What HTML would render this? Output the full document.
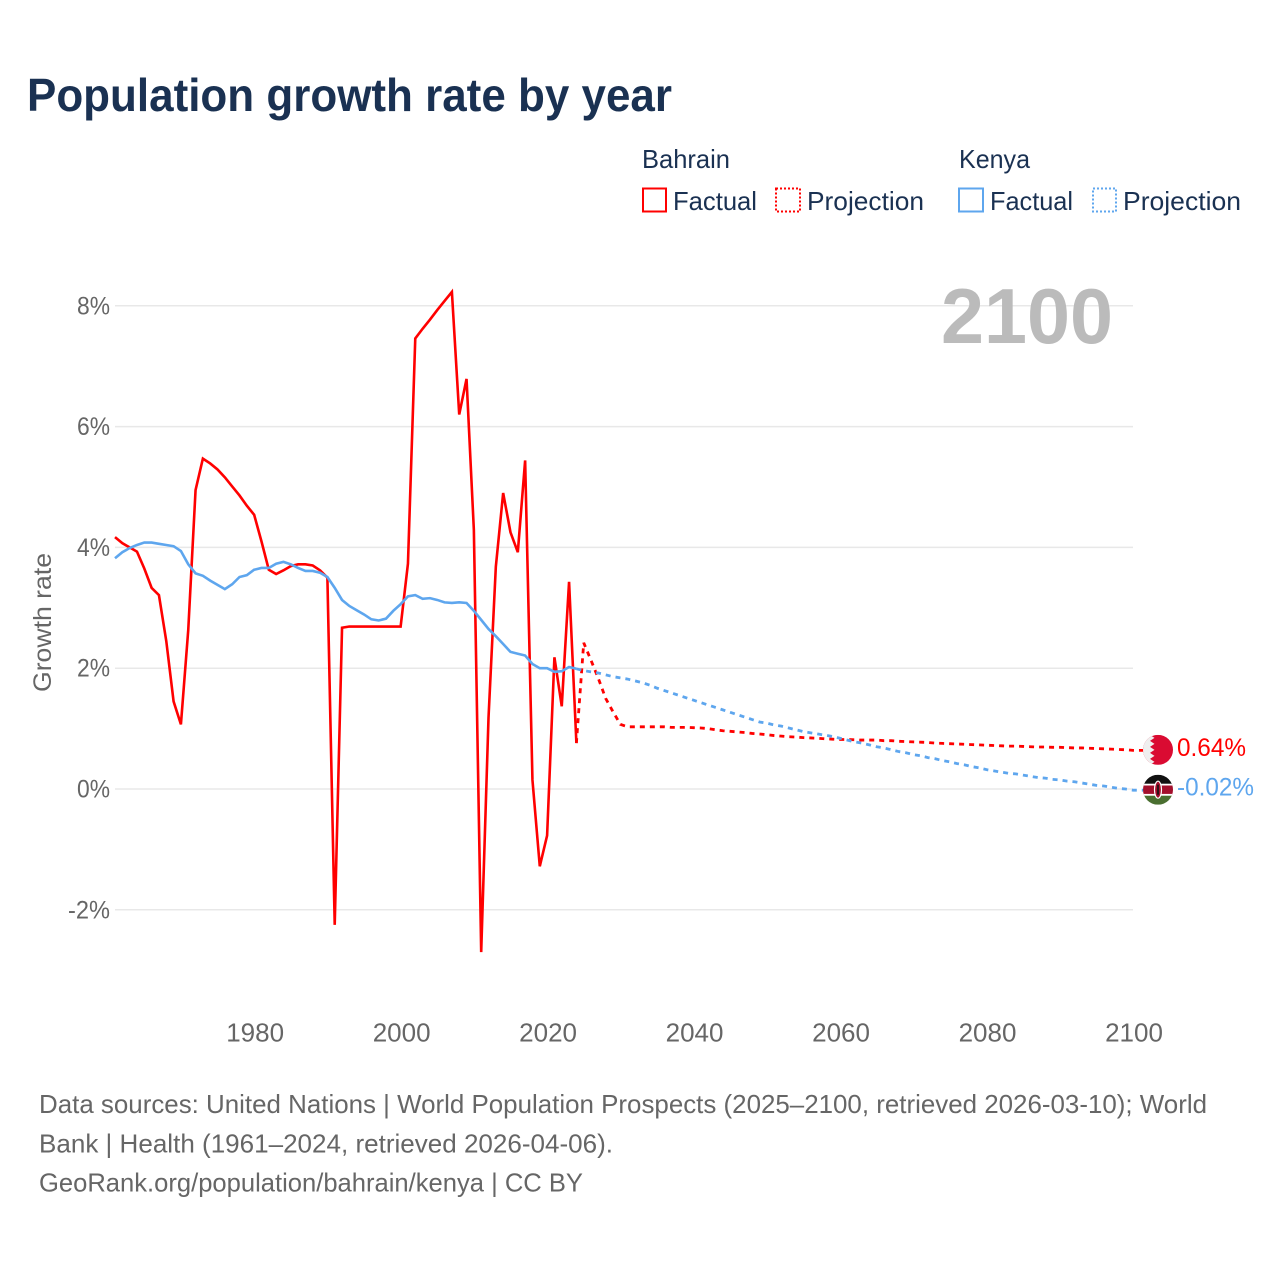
<!DOCTYPE html>
<html lang="en">
<head>
<meta charset="utf-8">
<title>Population growth rate by year</title>
<style>
html,body{margin:0;padding:0;background:#fff;width:1280px;height:1280px;overflow:hidden}
svg{display:block}
text{font-family:"Liberation Sans",sans-serif}
</style>
</head>
<body>
<svg id="chart" width="1280" height="1280" viewBox="0 0 1280 1280" xmlns="http://www.w3.org/2000/svg">
  <defs>
    <clipPath id="clip-flag-bh"><circle id="clip-bh" r="15"/></clipPath>
    <clipPath id="clip-flag-ke"><circle id="clip-ke" r="15"/></clipPath>
  </defs>
  <rect width="1280" height="1280" fill="#fff"/>
  <text x="27" y="111" font-size="46" font-weight="700" fill="#1a3152" textLength="645" lengthAdjust="spacingAndGlyphs">Population growth rate by year</text>

  <g font-size="26" fill="#1a3152">
    <text x="642" y="168" textLength="88" lengthAdjust="spacingAndGlyphs">Bahrain</text>
    <rect x="643" y="188.500" width="23" height="23" fill="none" stroke="#ff0000" stroke-width="2"/>
    <text x="673" y="210" textLength="84" lengthAdjust="spacingAndGlyphs">Factual</text>
    <rect x="776" y="188.500" width="24" height="23" fill="none" stroke="#ff0000" stroke-width="2" stroke-dasharray="2,2"/>
    <text x="807" y="210" textLength="117" lengthAdjust="spacingAndGlyphs">Projection</text>
    <text x="959" y="168" textLength="71" lengthAdjust="spacingAndGlyphs">Kenya</text>
    <rect x="959" y="188.500" width="24" height="23" fill="none" stroke="#5ea6ee" stroke-width="2"/>
    <text x="990" y="210" textLength="83" lengthAdjust="spacingAndGlyphs">Factual</text>
    <rect x="1093" y="188.500" width="23" height="23" fill="none" stroke="#5ea6ee" stroke-width="2" stroke-dasharray="2,2"/>
    <text x="1123" y="210" textLength="118" lengthAdjust="spacingAndGlyphs">Projection</text>
  </g>

  <g id="grid"></g>
  <g id="y-ticks"></g>
  <g id="x-ticks"></g>
  <text transform="translate(51,622.500) rotate(-90)" text-anchor="middle" font-size="25" fill="#666" textLength="139" lengthAdjust="spacingAndGlyphs">Growth rate</text>
  <text x="1113" y="343" text-anchor="end" font-size="78" font-weight="700" fill="#bbbbbb" textLength="172" lengthAdjust="spacingAndGlyphs">2100</text>

  <g id="series"></g>

  <g id="flag-bh" clip-path="url(#clip-flag-bh)">
    <rect x="-15" y="-15" width="30" height="30" fill="#da0b32"/>
    <polygon fill="#efefef" points="-15,-15 -8,-15 -3.500,-12 -8,-9 -3.500,-6 -8,-3 -3.500,0 -8,3 -3.500,6 -8,9 -3.500,12 -8,15 -15,15"/>
  </g>
  <g id="flag-ke" clip-path="url(#clip-flag-ke)">
    <rect x="-15" y="-15" width="30" height="10" fill="#111"/>
    <rect x="-15" y="-5" width="30" height="10" fill="#a30f2c"/>
    <rect x="-15" y="5" width="30" height="10" fill="#4a6f30"/>
    <rect x="-15" y="-6" width="30" height="1.800" fill="#fff"/>
    <rect x="-15" y="4.200" width="30" height="1.800" fill="#fff"/>
    <ellipse cx="0" cy="0" rx="3.500" ry="8.500" fill="#a30f2c" stroke="#fff" stroke-width="1.200"/>
    <rect x="-0.800" y="-5" width="1.600" height="10" fill="#111"/>
  </g>
  <text id="value-bh" x="1177" y="756" font-size="25" fill="#ff0000" textLength="69" lengthAdjust="spacingAndGlyphs">0.64%</text>
  <text id="value-ke" x="1177" y="796" font-size="25" fill="#5ea6ee" textLength="77" lengthAdjust="spacingAndGlyphs">-0.02%</text>

  <g font-size="26" fill="#666">
    <text x="39" y="1113" textLength="1168" lengthAdjust="spacingAndGlyphs">Data sources: United Nations | World Population Prospects (2025–2100, retrieved 2026-03-10); World</text>
    <text x="39" y="1152.500" textLength="574" lengthAdjust="spacingAndGlyphs">Bank | Health (1961–2024, retrieved 2026-04-06).</text>
    <text x="39" y="1191.500" textLength="544" lengthAdjust="spacingAndGlyphs">GeoRank.org/population/bahrain/kenya | CC BY</text>
  </g>
</svg>
<script>
const factualStartYear = 1961;
const projectionStartYear = 2024;
const bahrainFactual = [4.17,4.07,4.0,3.93,3.65,3.33,3.21,2.45,1.45,1.07,2.63,4.95,5.47,5.39,5.29,5.16,5.01,4.86,4.69,4.54,4.1,3.63,3.56,3.62,3.69,3.72,3.72,3.70,3.62,3.5,-2.25,2.67,2.69,2.69,2.69,2.69,2.69,2.69,2.69,2.69,3.73,7.46,7.62,7.77,7.93,8.08,8.23,6.2,6.79,4.29,-2.7,1.18,3.68,4.9,4.25,3.92,5.44,0.15,-1.28,-0.77,2.18,1.37,3.43,0.76];
const kenyaFactual = [3.82,3.92,3.99,4.04,4.08,4.08,4.06,4.04,4.02,3.94,3.72,3.57,3.53,3.45,3.38,3.31,3.39,3.51,3.54,3.63,3.66,3.66,3.73,3.76,3.72,3.66,3.61,3.61,3.58,3.51,3.33,3.13,3.03,2.96,2.89,2.81,2.79,2.82,2.95,3.06,3.19,3.21,3.15,3.16,3.13,3.09,3.08,3.09,3.08,2.95,2.8,2.65,2.53,2.4,2.27,2.24,2.21,2.07,2.0,2.0,1.94,1.95,2.02,1.99];
const bahrainProjection = [0.76,2.42,2.13,1.83,1.5,1.28,1.07,1.03,1.03,1.03,1.03,1.03,1.03,1.02,1.02,1.02,1.015,1.01,1.0,0.98,0.965,0.955,0.945,0.935,0.92,0.91,0.90,0.885,0.875,0.865,0.86,0.85,0.845,0.84,0.83,0.825,0.82,0.82,0.815,0.81,0.81,0.81,0.80,0.80,0.79,0.785,0.78,0.775,0.77,0.76,0.755,0.75,0.745,0.74,0.735,0.73,0.725,0.72,0.715,0.71,0.71,0.705,0.70,0.695,0.695,0.69,0.69,0.685,0.68,0.68,0.675,0.67,0.665,0.66,0.655,0.65,0.64];
const kenyaProjection = [1.99,1.96,1.94,1.92,1.89,1.86,1.84,1.82,1.79,1.76,1.72,1.67,1.63,1.59,1.55,1.51,1.47,1.43,1.39,1.35,1.31,1.27,1.23,1.19,1.15,1.11,1.09,1.06,1.04,1.01,0.98,0.95,0.93,0.91,0.89,0.87,0.84,0.81,0.78,0.76,0.73,0.70,0.68,0.65,0.62,0.60,0.57,0.55,0.52,0.50,0.47,0.45,0.42,0.40,0.37,0.35,0.32,0.30,0.28,0.26,0.25,0.23,0.21,0.19,0.18,0.16,0.15,0.13,0.12,0.10,0.08,0.06,0.05,0.03,0.01,0.00,-0.02];
const yTickValues = [-2,0,2,4,6,8];
const yTickLabels = ["-2%","0%","2%","4%","6%","8%"];
const xTickLabels = ["1980","2000","2020","2040","2060","2080","2100"];

const SVG_NS = "http://www.w3.org/2000/svg";
const plotLeft = 115, plotRight = 1133, yearMin = 1961, yearMax = 2100;
const y0px = 789, pxPerUnit = 60.4;
const xScale = (year) => plotLeft + (year - yearMin) * (plotRight - plotLeft) / (yearMax - yearMin);
const yScale = (v) => y0px - v * pxPerUnit;
const gridEl = document.getElementById("grid");
const yTicksEl = document.getElementById("y-ticks");
const xTicksEl = document.getElementById("x-ticks");
const seriesEl = document.getElementById("series");

yTickValues.forEach((v, i) => {
  const line = document.createElementNS(SVG_NS, "line");
  
  
  line.setAttribute("x1", plotLeft);
  line.setAttribute("x2", plotRight);
  line.setAttribute("y1", yScale(v));
  line.setAttribute("y2", yScale(v));
  line.setAttribute("stroke", "#e8e8e8");
  line.setAttribute("stroke-width", "1.500");
  gridEl.appendChild(line);

  const t = document.createElementNS(SVG_NS, "text");
  
  
  t.setAttribute("x", 110);
  t.setAttribute("y", yScale(v) + 8.5);
  t.setAttribute("text-anchor", "end");
  t.setAttribute("font-size", "25");
  t.setAttribute("fill", "#666");
  t.setAttribute("textLength", yTickLabels[i].length > 2 ? 42 : 33);
  t.setAttribute("lengthAdjust", "spacingAndGlyphs");
  t.textContent = yTickLabels[i];
  yTicksEl.appendChild(t);
});

xTickLabels.forEach((label) => {
  const t = document.createElementNS(SVG_NS, "text");
  
  
  t.setAttribute("x", xScale(Number(label)) + 1);
  t.setAttribute("y", 1041.5);
  t.setAttribute("text-anchor", "middle");
  t.setAttribute("font-size", "26");
  t.setAttribute("fill", "#666");
  t.textContent = label;
  xTicksEl.appendChild(t);
});

function linePoints(values, startYear) {
  return values.map((v, i) => xScale(startYear + i).toFixed(2) + "," + yScale(v).toFixed(2));
}

const bahrainProjectionPath = document.createElementNS(SVG_NS, "polyline");


bahrainProjectionPath.setAttribute("points", linePoints(bahrainProjection, projectionStartYear).concat([(plotRight + 10) + "," + yScale(bahrainProjection[bahrainProjection.length - 1])]).join(" "));
bahrainProjectionPath.setAttribute("fill", "none");
bahrainProjectionPath.setAttribute("stroke", "#ff0000");
bahrainProjectionPath.setAttribute("stroke-width", "2.800");
bahrainProjectionPath.setAttribute("stroke-dasharray", "5,5");
seriesEl.appendChild(bahrainProjectionPath);

const kenyaProjectionPath = document.createElementNS(SVG_NS, "polyline");


kenyaProjectionPath.setAttribute("points", linePoints(kenyaProjection, projectionStartYear).concat([(plotRight + 10) + "," + yScale(kenyaProjection[kenyaProjection.length - 1])]).join(" "));
kenyaProjectionPath.setAttribute("fill", "none");
kenyaProjectionPath.setAttribute("stroke", "#5ea6ee");
kenyaProjectionPath.setAttribute("stroke-width", "2.800");
kenyaProjectionPath.setAttribute("stroke-dasharray", "5,5");
seriesEl.appendChild(kenyaProjectionPath);

const bahrainFactualPath = document.createElementNS(SVG_NS, "polyline");


bahrainFactualPath.setAttribute("points", linePoints(bahrainFactual, factualStartYear).join(" "));
bahrainFactualPath.setAttribute("fill", "none");
bahrainFactualPath.setAttribute("stroke", "#ff0000");
bahrainFactualPath.setAttribute("stroke-width", "2.600");
seriesEl.appendChild(bahrainFactualPath);

const kenyaFactualPath = document.createElementNS(SVG_NS, "polyline");


kenyaFactualPath.setAttribute("points", linePoints(kenyaFactual, factualStartYear).join(" "));
kenyaFactualPath.setAttribute("fill", "none");
kenyaFactualPath.setAttribute("stroke", "#5ea6ee");
kenyaFactualPath.setAttribute("stroke-width", "2.600");
seriesEl.appendChild(kenyaFactualPath);

const flagX = plotRight + 25;
const bhY = yScale(bahrainProjection[bahrainProjection.length - 1]) - 0.5;
const keY = yScale(kenyaProjection[kenyaProjection.length - 1]) - 0.5;
document.getElementById("flag-bh").setAttribute("transform", "translate(" + flagX + "," + bhY + ")");
document.getElementById("flag-ke").setAttribute("transform", "translate(" + flagX + "," + keY + ")");
document.getElementById("value-bh").setAttribute("y", bhY + 6);
document.getElementById("value-ke").setAttribute("y", keY + 6);
</script>
</body>
</html>
